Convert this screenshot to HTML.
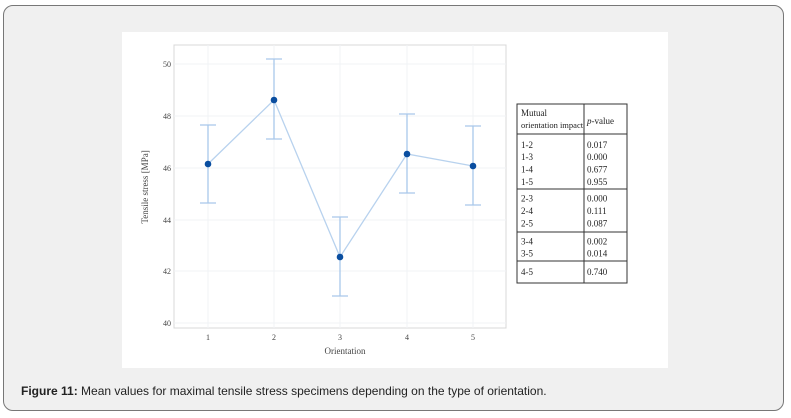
<!DOCTYPE html>
<html><head><meta charset="utf-8"><style>
html,body{margin:0;padding:0;background:#fff;width:791px;height:418px;overflow:hidden}
.card{position:absolute;left:3px;top:5px;width:779px;height:404px;background:#f0f0f0;border:1px solid #777;border-radius:10px}
.cap{position:absolute;left:21px;top:384px;font:12px "Liberation Sans",Arial,sans-serif;color:#222;white-space:nowrap}
svg{position:absolute;left:0;top:0}
</style></head><body>
<div class="card"></div>
<svg width="791" height="418" xmlns="http://www.w3.org/2000/svg" font-family="Liberation Serif,serif">
<rect x="122" y="32" width="546" height="336" fill="#fff"/>
<rect x="174" y="45" width="332" height="283" fill="#fff" stroke="#d8d8d8" stroke-width="1"/>
<g stroke="#f1f3f6" stroke-width="1">
<line x1="174" y1="64" x2="506" y2="64"/><line x1="174" y1="116" x2="506" y2="116"/>
<line x1="174" y1="168" x2="506" y2="168"/><line x1="174" y1="220" x2="506" y2="220"/>
<line x1="174" y1="271" x2="506" y2="271"/><line x1="174" y1="323" x2="506" y2="323"/>
<line x1="208" y1="45" x2="208" y2="328"/><line x1="274" y1="45" x2="274" y2="328"/>
<line x1="340" y1="45" x2="340" y2="328"/><line x1="407" y1="45" x2="407" y2="328"/>
<line x1="473" y1="45" x2="473" y2="328"/>
</g>
<g font-size="8" fill="#444" text-anchor="end">
<text x="171" y="67">50</text><text x="171" y="119">48</text><text x="171" y="171">46</text>
<text x="171" y="223">44</text><text x="171" y="274">42</text><text x="171" y="326">40</text>
</g>
<g font-size="8" fill="#444" text-anchor="middle">
<text x="208" y="340">1</text><text x="274" y="340">2</text><text x="340" y="340">3</text>
<text x="407" y="340">4</text><text x="473" y="340">5</text>
<text x="345" y="354" font-size="9">Orientation</text>
<text transform="translate(148,187) rotate(-90)" font-size="9">Tensile stress [MPa]</text>
</g>
<g stroke="#a9c8ea" stroke-width="1.3" fill="none">
<path d="M208 125V203M200 125H216M200 203H216"/>
<path d="M274 59V139M266 59H282M266 139H282"/>
<path d="M340 217V296M332 217H348M332 296H348"/>
<path d="M407 114V193M399 114H415M399 193H415"/>
<path d="M473 126V205M465 126H481M465 205H481"/>
<polyline points="208,164 274,100 340,257 407,154 473,166" stroke="#b8d2ee"/>
</g>
<g fill="#0a4ea0">
<circle cx="208" cy="164" r="3.3"/><circle cx="274" cy="100" r="3.3"/><circle cx="340" cy="257" r="3.3"/>
<circle cx="407" cy="154" r="3.3"/><circle cx="473" cy="166" r="3.3"/>
</g>
<g stroke="#333" stroke-width="1" fill="none">
<rect x="517" y="104" width="110" height="179"/>
<line x1="584" y1="104" x2="584" y2="283"/>
<line x1="517" y1="134" x2="627" y2="134"/><line x1="517" y1="189" x2="627" y2="189"/>
<line x1="517" y1="232" x2="627" y2="232"/><line x1="517" y1="261" x2="627" y2="261"/>
</g>
<g font-size="9" fill="#222">
<text x="521" y="116">Mutual</text><text x="521" y="128" font-size="8.5">orientation impact</text>
<text x="587" y="124"><tspan font-style="italic">p</tspan>-value</text>
<text x="521" y="148">1-2</text><text x="521" y="160">1-3</text><text x="521" y="172.5">1-4</text><text x="521" y="185">1-5</text>
<text x="587" y="148">0.017</text><text x="587" y="160">0.000</text><text x="587" y="172.5">0.677</text><text x="587" y="185">0.955</text>
<text x="521" y="201.5">2-3</text><text x="521" y="214">2-4</text><text x="521" y="226.5">2-5</text>
<text x="587" y="201.5">0.000</text><text x="587" y="214">0.111</text><text x="587" y="226.5">0.087</text>
<text x="521" y="244.5">3-4</text><text x="521" y="256.5">3-5</text>
<text x="587" y="244.5">0.002</text><text x="587" y="256.5">0.014</text>
<text x="521" y="275">4-5</text><text x="587" y="275">0.740</text>
</g>
</svg>
<div class="cap"><b>Figure 11:</b> Mean values for maximal tensile stress specimens depending on the type of orientation.</div>
</body></html>
